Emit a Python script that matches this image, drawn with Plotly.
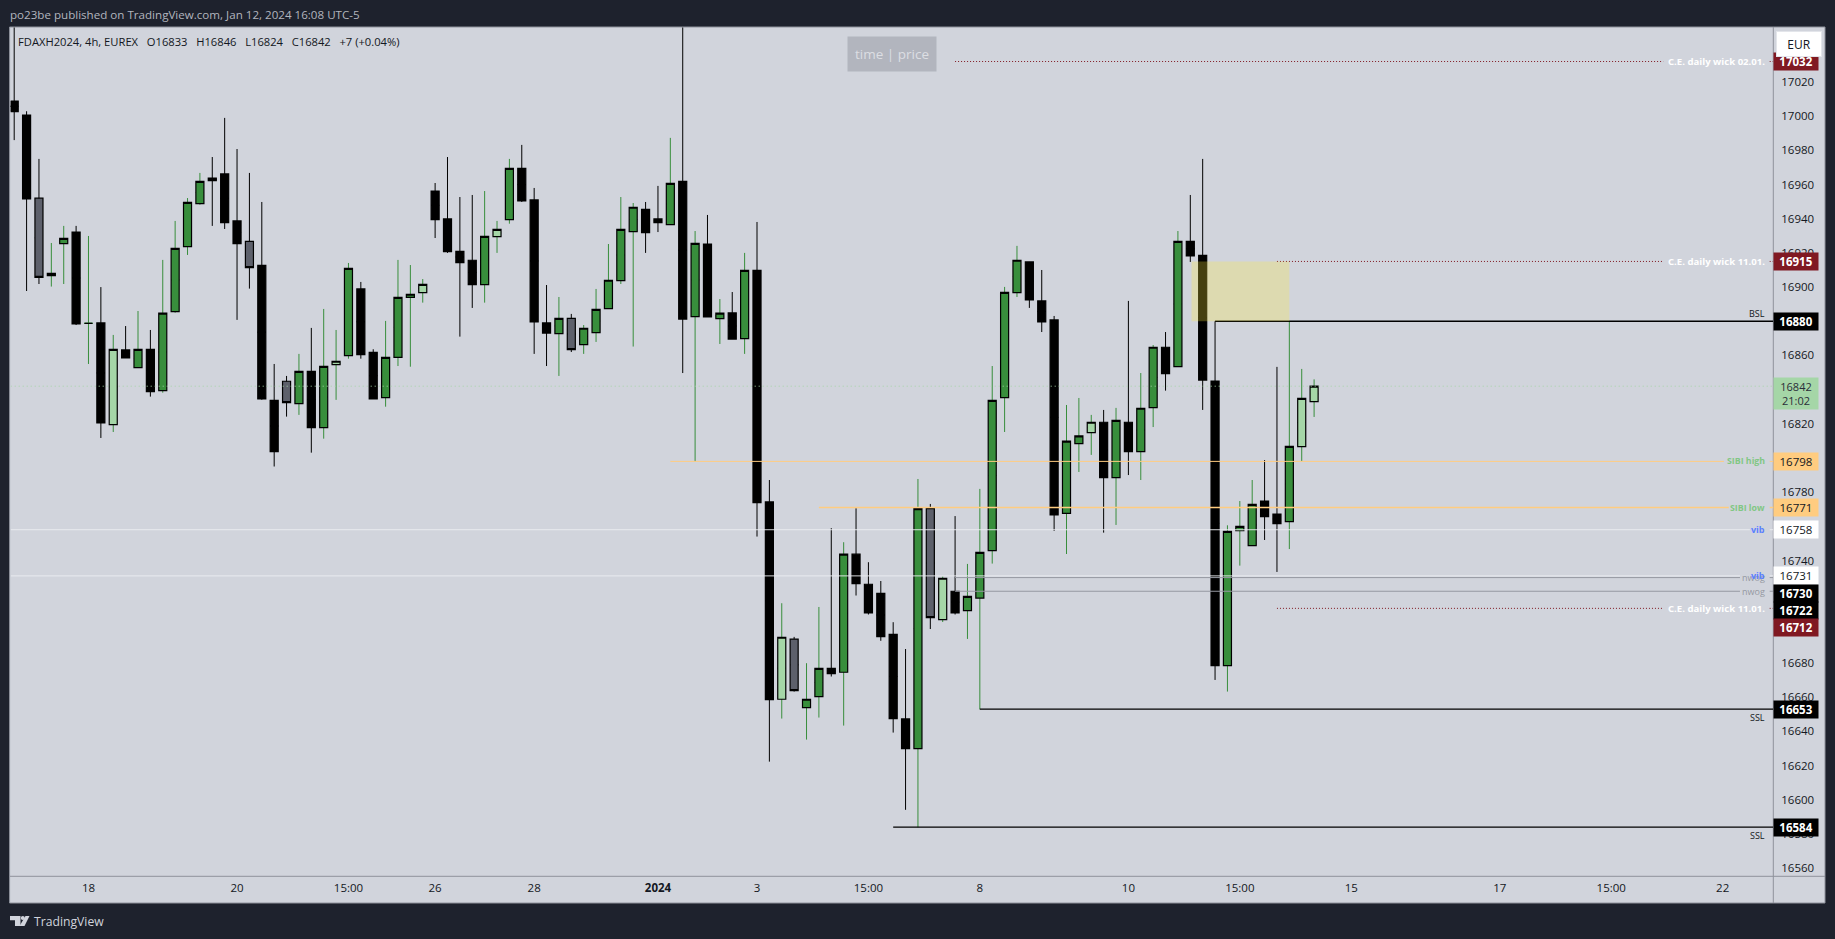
import plotly.graph_objects as go

# ---------- data (prices) ----------
opens = [17008.9,17000.7,16952.0,16906.7,16925.4,16932.2,16878.8,16879.0,16819.5,16863.2,16852.9,16863.6,16839.4,16885.6,16923.7,16948.8,
         16963.8,16966.2,16938.7,16926.8,16912.7,16833.7,16844.9,16831.8,16850.7,16817.8,16854.6,16859.9,16898.9,16861.8,16835.3,16858.9,
         16894.0,16896.7,16956.2,16939.9,16920.9,16915.7,16901.4,16929.5,16939.5,16969.5,16951.0,16879.0,16872.8,16881.7,16866.3,16873.3,
         16887.4,16903.8,16932.4,16945.5,16939.9,16936.5,16961.9,16882.7,16925.2,16881.5,16884.9,16869.8,16909.8,16774.3,16658.8,16694.0,
         16653.9,16660.3,16676.9,16674.6,16743.7,16726.1,16720.8,16696.8,16647.3,16629.9,16770.4,16705.4,16722.0,16710.7,16718.0,16745.8,
         16835.3,16896.7,16914.7,16891.9,16880.8,16767.6,16808.4,16814.8,16820.9,16788.5,16820.9,16803.7,16829.5,16864.8,16853.4,16926.8,
         16918.6,16845.0,16678.5,16757.4,16748.7,16774.8,16767.2,16762.7,16806.6,16833.0]
highs = [17065.0,17002.9,16975.0,16925.8,16935.8,16935.8,16929.9,16900.0,16872.0,16877.2,16886.0,16874.9,16915.9,16938.7,16952.1,16966.8,
         16976.1,16999.0,16980.8,16966.8,16949.8,16855.0,16848.0,16860.9,16876.1,16887.2,16874.9,16914.1,16903.0,16863.6,16880.2,16915.9,
         16912.9,16904.7,16960.9,16976.1,16952.7,16953.9,16956.2,16938.7,16975.0,16983.2,16958.0,16901.2,16894.2,16884.3,16877.8,16898.9,
         16925.2,16952.7,16949.2,16949.8,16959.2,16987.3,17060.0,16932.8,16942.2,16893.0,16897.1,16920.0,16938.1,16787.1,16715.0,16695.3,
         16679.9,16712.8,16758.9,16750.7,16770.6,16739.0,16728.0,16703.9,16688.2,16787.7,16773.1,16730.6,16766.0,16738.0,16781.9,16853.8,
         16900.1,16924.1,16914.7,16910.0,16883.1,16831.0,16835.1,16825.2,16828.1,16829.3,16891.9,16849.7,16866.1,16873.7,16932.8,16953.9,
         16975.0,16880.0,16760.6,16774.8,16787.1,16798.8,16853.3,16880.0,16852.1,16846.0]
lows = [16986.0,16897.7,16901.8,16900.3,16901.8,16877.8,16855.0,16811.7,16815.2,16858.5,16852.9,16835.9,16838.2,16885.0,16918.8,16948.2,
        16935.8,16934.0,16880.8,16899.1,16834.1,16795.0,16824.2,16825.2,16803.1,16811.3,16834.0,16858.1,16858.1,16834.5,16830.0,16853.8,
        16853.4,16890.9,16928.7,16920.0,16871.0,16887.8,16890.9,16920.0,16937.1,16949.8,16860.9,16853.8,16848.0,16862.0,16860.9,16867.9,
        16887.4,16901.8,16865.2,16920.0,16932.2,16936.5,16849.7,16797.9,16882.5,16866.7,16869.6,16860.9,16754.0,16622.3,16647.5,16663.3,
        16635.2,16648.1,16672.1,16643.4,16719.5,16708.4,16693.0,16639.3,16594.1,16583.9,16699.9,16704.0,16708.4,16694.1,16652.9,16738.2,
        16815.2,16894.2,16887.8,16873.7,16757.3,16743.8,16791.8,16801.8,16756.3,16760.8,16790.0,16787.1,16818.1,16839.4,16853.4,16914.7,
        16828.1,16670.1,16663.3,16737.0,16748.7,16752.0,16733.3,16746.7,16798.2,16824.0]
closes = [17002.7,16951.6,16905.7,16908.0,16928.5,16878.4,16878.8,16820.5,16863.6,16858.5,16863.6,16838.8,16884.7,16922.7,16949.6,16961.9,
          16962.3,16937.7,16925.4,16911.4,16834.5,16803.7,16832.4,16850.7,16817.8,16853.6,16856.6,16911.0,16860.5,16834.5,16858.9,16894.0,
          16895.8,16901.6,16939.5,16920.7,16914.3,16901.4,16929.7,16933.8,16969.5,16950.4,16879.6,16873.1,16881.7,16863.4,16875.9,16887.0,
          16904.0,16933.8,16946.7,16931.9,16937.7,16960.7,16881.3,16925.6,16882.5,16884.7,16869.6,16909.8,16773.9,16658.6,16695.1,16663.9,
          16658.8,16676.9,16673.8,16743.7,16726.5,16709.3,16695.4,16647.5,16629.9,16770.4,16706.6,16729.6,16709.3,16719.0,16744.8,16833.7,
          16896.9,16915.7,16892.5,16879.6,16766.7,16809.8,16812.9,16820.9,16788.5,16822.0,16803.7,16829.1,16864.8,16849.4,16926.8,16918.2,
          16845.6,16678.5,16757.1,16760.0,16772.9,16765.6,16761.5,16806.8,16834.9,16842.0]

grey_bars = [2, 19, 22, 45, 63, 74]
light_bars = [8, 26, 33, 39, 62, 75, 87, 104, 105]
doji_up_bars = [6]

y_ticks = list(range(16560, 17041, 20))
time_tick_bars = [6, 18, 27, 34, 42, 52, 60, 69, 78, 90, 99, 108, 120, 129, 138]
time_tick_text = ["18", "20", "15:00", "26", "28", "<b>2024</b>", "3", "15:00", "8", "10", "15:00", "15", "17", "15:00", "22"]

# level lines: price, first bar, bar where the gap for the label starts
ce_levels = [17032, 16915, 16712]
ce_start = [76, 102, 102]
sibi_levels = [16798, 16771]
sibi_start = [53, 65]
sibi_gap = [138.1, 138.5]
vib_levels = [16758, 16731]
vib_gap = [140.2, 139.4]
nwog_levels = [16730, 16722]
nwog_start = 76
liq_levels = [16880, 16653, 16584]
liq_start = [97, 78, 71]
zone_bars = [95.1, 103]
zone_prices = [16880, 16915]
last_price = 16842

# price badges on the axis
badge_prices = [17032, 16915, 16880, 16798, 16771, 16758, 16731, 16730, 16722, 16712, 16653, 16584]

W, H = 1835, 939
PANEL_L, PANEL_R, PANEL_T, PANEL_B = 10.7, 1773.3, 27.5, 876.3
BG, FRAME, AXIS = "#d1d4dc", "#1e222d", "#8f929c"
GREEN, LIGHT, GREY, RED, ORANGE = "#388e3c", "#a5d6a7", "#5d606b", "#801922", "#ffcc80"
FONT = "Open Sans"
BAR0, BAR_STEP = 14.2, 12.38
x_lo = (PANEL_L - BAR0) / BAR_STEP
x_hi = (PANEL_R - BAR0) / BAR_STEP
GAP_END = 141.8


def px(x):
    return x / W


def py(y):
    return 1 - y / H


fig = go.Figure()
n = len(opens)
is_up = [closes[i] > opens[i] or i in doji_up_bars for i in range(n)]


def wicks(idx, color):
    mids = [(opens[i] + closes[i]) / 2 for i in idx]
    fig.add_trace(go.Candlestick(
        x=idx, open=mids, close=mids, high=[highs[i] for i in idx], low=[lows[i] for i in idx],
        increasing=dict(line=dict(color=color, width=1), fillcolor=color),
        decreasing=dict(line=dict(color=color, width=1), fillcolor=color),
        hoverinfo="skip", showlegend=False))


def bodies(idx, fill):
    o = [opens[i] for i in idx]
    c = [closes[i] for i in idx]
    fig.add_trace(go.Candlestick(
        x=idx, open=o, close=c, high=[max(a, b) for a, b in zip(o, c)], low=[min(a, b) for a, b in zip(o, c)],
        increasing=dict(line=dict(color="#000000", width=1.2), fillcolor=fill),
        decreasing=dict(line=dict(color="#000000", width=1.2), fillcolor=fill),
        hoverinfo="skip", showlegend=False))


wicks([i for i in range(n) if is_up[i]], GREEN)
wicks([i for i in range(n) if not is_up[i]], "#000000")
special = set(grey_bars) | set(light_bars)
bodies([i for i in range(n) if is_up[i] and i not in special], GREEN)
bodies([i for i in range(n) if not is_up[i] and i not in special], "#000000")
bodies(grey_bars, GREY)
bodies(light_bars, LIGHT)


def level(price, start, gap, color, width, dash="solid"):
    xs = [start, gap] if gap is None or gap >= x_hi else [start, gap, None, GAP_END, x_hi]
    ys = [price, price] if len(xs) == 2 else [price, price, None, price, price]
    fig.add_trace(go.Scatter(x=xs, y=ys, mode="lines", line=dict(color=color, width=width, dash=dash),
                             hoverinfo="skip", showlegend=False))


level(last_price, x_lo, x_hi, LIGHT, 1, "1px,3px")
for p, s in zip(ce_levels, ce_start):
    level(p, s, 133.2, RED, 1, "1px,2px")
level(sibi_levels[0], sibi_start[0], sibi_gap[0], ORANGE, 1)
level(sibi_levels[1], sibi_start[1], sibi_gap[1], ORANGE, 1.5)
for p, g in zip(vib_levels, vib_gap):
    level(p, x_lo, g, "#eceef2", 0.9)
for p in nwog_levels:
    level(p, nwog_start, 139.4, "#9598a1", 1)
for p, s in zip(liq_levels, liq_start):
    level(p, s, x_hi, "#000000", 1.3)

ann = []


def label(text, price, color, bold=False, shift=0, size=9):
    ann.append(dict(x=141.6, y=price, xref="x", yref="y", text=f"<b>{text}</b>" if bold else text, showarrow=False,
                    xanchor="right", yanchor="middle", yshift=shift,
                    font=dict(family=FONT, size=size, color=color)))


label("C.E. daily wick 02.01.", ce_levels[0], "#ffffff", True, size=9.6)
label("C.E. daily wick 11.01.", ce_levels[1], "#ffffff", True, size=9.6)
label("C.E. daily wick 11.01.", ce_levels[2], "#ffffff", True, size=9.6)
label("SIBI high", sibi_levels[0], "#81c784", True, size=8.8)
label("SIBI low", sibi_levels[1], "#81c784", True, size=8.8)
label("vib", vib_levels[0], "#5a7fff", True)
label("nwog", nwog_levels[0], "#9598a1")
label("vib", vib_levels[1], "#5a7fff", True)
label("nwog", nwog_levels[1], "#9598a1")
label("BSL", liq_levels[0], "#131722", shift=8)
label("SSL", liq_levels[1], "#131722", shift=-8)
label("SSL", liq_levels[2], "#131722", shift=-8)

badge_style = {
    17032: (RED, "#ffffff", 0), 16915: (RED, "#ffffff", 0), 16880: ("#000000", "#ffffff", 0),
    16798: (ORANGE, "#131722", 0), 16771: (ORANGE, "#131722", 0), 16758: ("#ffffff", "#131722", 0),
    16731: ("#ffffff", "#131722", 0), 16730: ("#000000", "#ffffff", -15.7), 16722: ("#000000", "#ffffff", -19.4),
    16712: (RED, "#ffffff", -18.9), 16653: ("#000000", "#ffffff", 0), 16584: ("#000000", "#ffffff", 0),
}
for p in badge_prices:
    bg, fg, sh = badge_style[p]
    bold = fg == "#ffffff"
    ann.append(dict(x=px(1795.5), y=p, xref="paper", yref="y", text=f"<b>{p}</b>" if bold else str(p), showarrow=False,
                    xanchor="center", yanchor="middle", yshift=sh, width=44, height=17, bgcolor=bg, borderpad=0,
                    font=dict(family=FONT, size=11.5, color=fg)))
ann.append(dict(x=px(1795.5), y=last_price, xref="paper", yref="y", text=f"{last_price}<br>21:02", showarrow=False,
                xanchor="center", yanchor="middle", yshift=-7, width=44, height=31, bgcolor=LIGHT, borderpad=0,
                font=dict(family=FONT, size=11, color="#2a2e39")))
ann.append(dict(x=px(1799), y=py(44), xref="paper", yref="paper", text="EUR", showarrow=False, xanchor="center",
                yanchor="middle", width=44, height=24, bgcolor="#ffffff", bordercolor="#e3e5ea", borderwidth=1, borderpad=0,
                font=dict(family=FONT, size=12, color="#131722")))


def page_text(text, x, y, size, color, anchor="left"):
    ann.append(dict(x=px(x), y=py(y), xref="paper", yref="paper", text=text, showarrow=False, xanchor=anchor,
                    yanchor="middle", font=dict(family=FONT, size=size, color=color), borderpad=0))


page_text("po23be published on TradingView.com, Jan 12, 2024 16:08 UTC-5", 9, 15, 11.6, "#b2b5be")
page_text("FDAXH2024, 4h, EUREX &#160;&#160;O16833 &#160;&#160;H16846 &#160;&#160;L16824 &#160;&#160;C16842 &#160;&#160;+7 (+0.04%)", 17, 41.7, 11.2, "#131722")
page_text("TradingView", 33, 921.7, 12.2, "#d1d4dc")
ann.append(dict(x=px(892), y=py(54), xref="paper", yref="paper", text="time | price", showarrow=False,
                xanchor="center", yanchor="middle", width=88, height=34, bgcolor="#b2b5be", borderpad=0,
                font=dict(family=FONT, size=13.5, color="#dcdee3")))


def paper_rect(x0, y0, x1, y1, **kw):
    return dict(type="rect", xref="paper", yref="paper", x0=px(x0), x1=px(x1), y0=py(y0), y1=py(y1), **kw)


def paper_path(points, color):
    d = "M " + " L ".join(f"{px(a):.5f},{py(b):.5f}" for a, b in points) + " Z"
    return dict(type="path", xref="paper", yref="paper", path=d, fillcolor=color, line=dict(width=0), layer="above")


shapes = [
    paper_rect(9.6, 27, 1825, 903, fillcolor=BG, line=dict(color=AXIS, width=1), layer="below"),
    dict(type="rect", xref="x", yref="y", x0=zone_bars[0], x1=zone_bars[1], y0=zone_prices[0], y1=zone_prices[1],
         fillcolor="rgba(255,235,59,0.27)", line=dict(width=0), layer="above"),
    dict(type="line", xref="paper", yref="paper", x0=px(PANEL_R), x1=px(PANEL_R), y0=py(27), y1=py(903),
         line=dict(color=AXIS, width=1), layer="below"),
    dict(type="line", xref="paper", yref="paper", x0=px(9.6), x1=px(1825), y0=py(PANEL_B), y1=py(PANEL_B),
         line=dict(color=AXIS, width=1), layer="below"),
    paper_path([(10, 916), (20.5, 916), (20.5, 926), (15, 926), (15, 920.3), (10, 920.3)], "#d1d4dc"),
    paper_path([(25.5, 916), (29.5, 916), (24.5, 926), (19.5, 926)], "#d1d4dc"),
    dict(type="circle", xref="paper", yref="paper", x0=px(20.8), x1=px(24.8), y0=py(916), y1=py(920),
         fillcolor="#d1d4dc", line=dict(width=0), layer="above"),
]

fig.update_layout(
    width=W, height=H, margin=dict(l=0, r=0, t=0, b=0), paper_bgcolor=FRAME, plot_bgcolor=BG, showlegend=False,
    boxgap=0.35, boxgroupgap=0, annotations=ann, shapes=shapes,
    font=dict(family=FONT, size=11.5, color="#131722"),
    xaxis=dict(domain=[px(PANEL_L), px(PANEL_R)], range=[x_lo, x_hi], rangeslider=dict(visible=False),
               tickmode="array", tickvals=time_tick_bars, ticktext=time_tick_text, showgrid=False, zeroline=False,
               showline=False, ticks="", ticklabelstandoff=3, tickangle=0,
               tickfont=dict(family=FONT, size=11.5, color="#131722")),
    yaxis=dict(domain=[py(PANEL_B), py(PANEL_T)], range=[16555.2, 17051.9], side="right", tickmode="array",
               tickvals=y_ticks, ticktext=[str(v) for v in y_ticks], showgrid=False, zeroline=False, showline=False,
               ticks="", ticklabelstandoff=7, tickfont=dict(family=FONT, size=11.5, color="#131722")),
)

fig.write_html("out.html", config=dict(displayModeBar=False, responsive=False),
               post_script="document.body.style.margin='0';document.body.style.background='#1e222d';")
